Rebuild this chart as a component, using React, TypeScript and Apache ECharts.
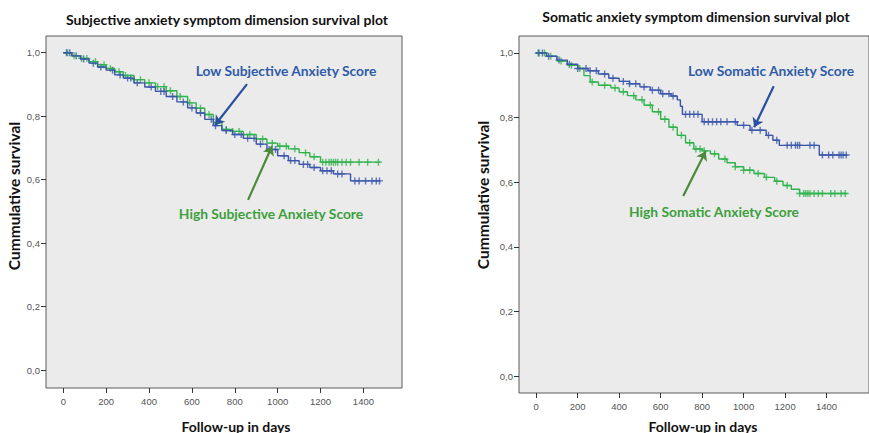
import React, { useEffect, useRef } from "react";
import * as echarts from "echarts";

// ---------- data ----------
const X_TICKS = [0, 200, 400, 600, 800, 1000, 1200, 1400];
const Y_TICKS = [0, 0.2, 0.4, 0.6, 0.8, 1.0];

// Subjective – Low score (blue)
const SUBJ_LOW_DAYS = [0, 40, 80, 120, 160, 200, 240, 280, 330, 380, 430, 480, 530, 580, 620, 660, 700, 740, 790, 840, 900, 950, 1000, 1050, 1100, 1150, 1200, 1260, 1340];
const SUBJ_LOW_SURV = [1.0, 0.99, 0.98, 0.967, 0.955, 0.945, 0.93, 0.92, 0.905, 0.892, 0.878, 0.862, 0.845, 0.826, 0.81, 0.79, 0.77, 0.755, 0.742, 0.73, 0.712, 0.695, 0.675, 0.66, 0.648, 0.638, 0.628, 0.618, 0.596];
const SUBJ_LOW_END = 1480;
const SUBJ_LOW_CENS = [15, 30, 60, 95, 140, 175, 230, 265, 300, 315, 345, 410, 455, 470, 510, 560, 600, 640, 690, 710, 760, 800, 830, 860, 890, 920, 960, 990, 1030, 1060, 1080, 1120, 1140, 1170, 1210, 1230, 1250, 1280, 1300, 1360, 1380, 1410, 1440, 1460, 1475];

// Subjective – High score (green)
const SUBJ_HIGH_DAYS = [0, 40, 80, 120, 160, 200, 240, 280, 330, 380, 430, 480, 530, 580, 620, 660, 700, 740, 790, 840, 900, 950, 1000, 1050, 1100, 1150, 1200];
const SUBJ_HIGH_SURV = [1.0, 0.99, 0.982, 0.972, 0.962, 0.95, 0.94, 0.928, 0.915, 0.905, 0.893, 0.88, 0.862, 0.842, 0.825, 0.805, 0.78, 0.758, 0.752, 0.742, 0.728, 0.715, 0.705, 0.697, 0.685, 0.672, 0.655];
const SUBJ_HIGH_END = 1480;
const SUBJ_HIGH_CENS = [20, 50, 85, 110, 150, 190, 220, 260, 290, 330, 360, 400, 440, 470, 500, 545, 590, 640, 680, 720, 760, 790, 820, 870, 930, 975, 1010, 1040, 1080, 1130, 1170, 1210, 1225, 1240, 1250, 1260, 1270, 1280, 1300, 1320, 1340, 1380, 1420, 1470];

// Somatic – Low score (blue)
const SOM_LOW_DAYS = [0, 50, 100, 150, 200, 250, 300, 350, 400, 450, 500, 550, 600, 650, 680, 695, 705, 800, 969, 1031, 1109, 1141, 1172, 1365];
const SOM_LOW_SURV = [1.0, 0.99, 0.978, 0.965, 0.952, 0.945, 0.935, 0.922, 0.912, 0.905, 0.895, 0.885, 0.874, 0.867, 0.855, 0.835, 0.81, 0.787, 0.776, 0.761, 0.745, 0.73, 0.714, 0.684];
const SOM_LOW_END = 1500;
const SOM_LOW_CENS = [10, 30, 60, 110, 160, 200, 240, 260, 290, 330, 370, 420, 450, 480, 520, 560, 590, 610, 640, 660, 720, 740, 760, 780, 810, 830, 850, 870, 890, 920, 960, 1000, 1040, 1080, 1120, 1160, 1210, 1230, 1250, 1260, 1270, 1320, 1340, 1380, 1410, 1430, 1460, 1470, 1480, 1495];

// Somatic – High score (green)
const SOM_HIGH_DAYS = [0, 50, 100, 150, 200, 230, 260, 300, 360, 400, 440, 480, 520, 560, 600, 640, 680, 720, 760, 800, 840, 880, 920, 960, 1000, 1050, 1100, 1150, 1190, 1230, 1270];
const SOM_HIGH_SURV = [1.0, 0.99, 0.975, 0.962, 0.952, 0.93, 0.91, 0.9, 0.892, 0.88, 0.868, 0.855, 0.838, 0.818, 0.795, 0.77, 0.745, 0.722, 0.703, 0.697, 0.688, 0.672, 0.66, 0.648, 0.637, 0.627, 0.615, 0.603, 0.59, 0.578, 0.565];
const SOM_HIGH_END = 1500;
const SOM_HIGH_CENS = [15, 40, 70, 120, 170, 210, 270, 330, 380, 420, 470, 510, 550, 590, 620, 660, 700, 740, 770, 790, 810, 860, 910, 960, 1000, 1030, 1070, 1110, 1160, 1210, 1270, 1290, 1300, 1310, 1320, 1340, 1360, 1380, 1420, 1440, 1470, 1490];

// ---------- helpers ----------
const stepData = (days: number[], surv: number[], end: number) => {
  const d = days.map((t, i) => [t, surv[i]]);
  d.push([end, surv[surv.length - 1]]);
  return d;
};
const levelAt = (days: number[], surv: number[], t: number) => {
  let v = surv[0];
  for (let i = 0; i < days.length; i++) if (days[i] <= t) v = surv[i];
  return v;
};
const censData = (days: number[], surv: number[], cens: number[]) =>
  cens.map((t) => [t, levelAt(days, surv, t)]);

const BLUE = "#3a56aa";
const GREEN = "#2fb34c";
const BLUE_TXT = "#2f5ca8";
const GREEN_TXT = "#3c9f3c";
const BLUE_ARROW = "#2a50a0";
const GREEN_ARROW = "#4a8a3a";
const PLUS = "path://M4,0H6V4H10V6H6V10H4V6H0V4H4Z";
const TXT_FONT = "Lato, 'Open Sans', sans-serif";

export default function App() {
  const ref = useRef<HTMLDivElement>(null);
  useEffect(() => {
    if (!ref.current) return;
    const chart = echarts.init(ref.current, undefined, { renderer: "svg" });

    const xAxis = (gi: number, min: number, max: number) => ({
      gridIndex: gi,
      type: "value",
      min,
      max,
      axisLine: { show: false, onZero: false },
      splitLine: { show: false },
      axisTick: { show: true, length: 5, customValues: X_TICKS, lineStyle: { color: "#333", width: 1 } },
      axisLabel: {
        customValues: X_TICKS,
        color: "#555",
        fontSize: 9.5,
        fontFamily: "'Liberation Sans', Arial",
        margin: 8,
        formatter: (v: number) => String(Math.round(v)),
      },
    });
    const yAxis = (gi: number, min: number, max: number) => ({
      gridIndex: gi,
      type: "value",
      min,
      max,
      axisLine: { show: false, onZero: false },
      splitLine: { show: false },
      axisTick: { show: true, length: 5, customValues: Y_TICKS, lineStyle: { color: "#333", width: 1 } },
      axisLabel: {
        customValues: Y_TICKS,
        color: "#555",
        fontSize: 9.5,
        fontFamily: "'Liberation Sans', Arial",
        margin: 6,
        formatter: (v: number) => v.toFixed(1).replace(".", ","),
      },
    });

    const curve = (gi: number, data: number[][], color: string) => ({
      type: "line",
      xAxisIndex: gi,
      yAxisIndex: gi,
      step: "end",
      data,
      symbol: "none",
      lineStyle: { color, width: 1.4 },
      silent: true,
    });
    const marks = (gi: number, data: number[][], color: string) => ({
      type: "scatter",
      xAxisIndex: gi,
      yAxisIndex: gi,
      data,
      symbol: PLUS,
      symbolSize: 7,
      itemStyle: { color },
      silent: true,
    });
    const arrow = (gi: number, from: number[], to: number[], color: string) => ({
      type: "line",
      xAxisIndex: gi,
      yAxisIndex: gi,
      data: [],
      markLine: {
        silent: true,
        animation: false,
        label: { show: false },
        lineStyle: { color, width: 2.2, type: "solid" },
        symbol: ["none", "arrow"],
        symbolSize: 9,
        data: [[{ coord: from }, { coord: to }]],
      },
    });

    const text = (x: number, y: number, t: string, color: string, size: number, rotation = 0) => ({
      type: "text",
      x,
      y,
      rotation,
      style: {
        text: t,
        fill: color,
        font: `bold ${size}px ${TXT_FONT}`,
        textAlign: "center",
        textVerticalAlign: "middle",
      },
    });

    chart.setOption({
      animation: false,
      backgroundColor: "#ffffff",
      grid: [
        { left: 46, top: 36, width: 356, height: 352, show: true, backgroundColor: "#ebebeb", borderColor: "#5a5a5a", borderWidth: 1 },
        { left: 519, top: 36, width: 360, height: 357, show: true, backgroundColor: "#ebebeb", borderColor: "#5a5a5a", borderWidth: 1 },
      ],
      xAxis: [xAxis(0, -80.7, 1580), xAxis(1, -83, 1604.6)],
      yAxis: [yAxis(0, -0.0567, 1.0526), yAxis(1, -0.0526, 1.0526)],
      series: [
        curve(0, stepData(SUBJ_HIGH_DAYS, SUBJ_HIGH_SURV, SUBJ_HIGH_END), GREEN),
        marks(0, censData(SUBJ_HIGH_DAYS, SUBJ_HIGH_SURV, SUBJ_HIGH_CENS), GREEN),
        curve(0, stepData(SUBJ_LOW_DAYS, SUBJ_LOW_SURV, SUBJ_LOW_END), BLUE),
        marks(0, censData(SUBJ_LOW_DAYS, SUBJ_LOW_SURV, SUBJ_LOW_CENS), BLUE),
        curve(1, stepData(SOM_HIGH_DAYS, SOM_HIGH_SURV, SOM_HIGH_END), GREEN),
        marks(1, censData(SOM_HIGH_DAYS, SOM_HIGH_SURV, SOM_HIGH_CENS), GREEN),
        curve(1, stepData(SOM_LOW_DAYS, SOM_LOW_SURV, SOM_LOW_END), BLUE),
        marks(1, censData(SOM_LOW_DAYS, SOM_LOW_SURV, SOM_LOW_CENS), BLUE),
        arrow(0, [857, 0.901], [708, 0.772], BLUE_ARROW),
        arrow(0, [862, 0.536], [974, 0.706], GREEN_ARROW),
        arrow(1, [1145, 0.897], [1051, 0.77], BLUE_ARROW),
        arrow(1, [709, 0.557], [817, 0.696], GREEN_ARROW),
      ],
      graphic: [
        text(227, 19, "Subjective anxiety symptom dimension survival plot", "#111", 14),
        text(696, 16, "Somatic anxiety symptom dimension survival plot", "#111", 14),
        text(236, 426, "Follow-up in days", "#111", 14),
        text(703, 426, "Follow-up in days", "#111", 14),
        text(14, 196, "Cummulative survival", "#111", 15.5, Math.PI / 2),
        text(483, 195, "Cummulative survival", "#111", 15.5, Math.PI / 2),
        text(286, 70, "Low Subjective Anxiety Score", BLUE_TXT, 13.8),
        text(271, 213, "High Subjective Anxiety Score", GREEN_TXT, 13.8),
        text(771, 70, "Low Somatic Anxiety Score", BLUE_TXT, 13.8),
        text(714, 211, "High Somatic Anxiety Score", GREEN_TXT, 13.8),
      ],
    });
    return () => chart.dispose();
  }, []);
  return <div ref={ref} style={{ position: "fixed", left: 0, top: 0, width: 869, height: 433 }} />;
}
